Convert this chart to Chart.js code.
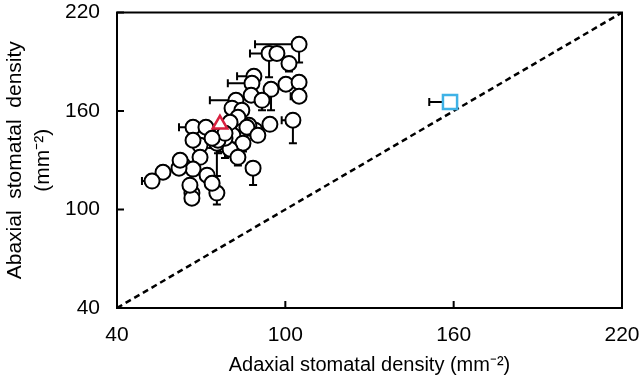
<!DOCTYPE html>
<html>
<head>
<meta charset="utf-8">
<script src="https://cdn.jsdelivr.net/npm/chart.js@4.4.0/dist/chart.umd.min.js"></script>
<style>
  body { margin: 0; background: #fff; }
  #wrap { width: 640px; height: 383px; }
</style>
</head>
<body>
<div id="wrap"><canvas id="myChart"></canvas></div>
<script>
// circles: adaxial (x), abaxial (y), and one-sided errors (x to the left, y downward)
var adaxial = [104.9, 94.2, 97.0, 101.3, 88.8, 88.1, 94.9, 100.2, 104.9, 104.9, 87.8, 82.4, 81.0, 84.5, 102.7, 94.5, 89.2, 87.0, 84.9, 81.3,
               84.9, 67.1, 71.7, 75.6, 69.6, 67.1, 69.6, 80.3, 83.1, 88.5, 63.5, 67.1, 56.4, 52.5, 72.1, 66.7, 66.7, 75.6, 73.9, 76.7,
               78.5, 76.0, 83.1, 80.3, 62.1, 78.5, 73.9, 86.3, 90.2, 66.0, 62.5, 91.7];
var abaxial = [200.6, 195.1, 195.1, 189.0, 181.1, 176.9, 173.2, 176.3, 177.5, 169.0, 169.6, 166.5, 161.7, 160.4, 154.4, 151.9, 148.3, 151.3, 148.3, 145.2,
               140.4, 150.1, 150.1, 140.4, 139.1, 142.2, 131.8, 136.7, 131.8, 125.2, 127.0, 124.6, 122.7, 117.3, 120.9, 110.0, 106.9, 110.0, 116.0, 145.2,
               143.4, 142.2, 156.2, 153.1, 125.2, 146.4, 143.4, 150.1, 145.2, 114.8, 130.0, 166.5];
var adaxialErr = [15.7, 6.8, 0, 0, 6, 8.6, 0, 0, 0, 3, 0, 9.3, 0, 0, 4, 0, 0, 0, 0, 0,
                  0, 5, 0, 0, 0, 2, 0, 0, 0, 0, 2, 0, 2, 3.6, 0, 0, 0, 0, 0, 0,
                  0, 0, 0, 0, 2, 0, 0, 0, 0, 0, 2, 0];
var abaxialErr = [11, 14.6, 4, 5, 0, 3, 12.8, 4, 0, 3, 3, 0, 3, 4, 14, 3, 4, 3, 3, 5,
                  5, 0, 0, 20, 4, 0, 3, 4, 5, 10.3, 4, 3, 0, 2, 4, 0, 0, 7, 4, 10,
                  12, 8, 3, 3, 3, 8, 6, 4, 3, 3, 3, 6];

// red triangle
var triX = [76.7];
var triY = [151.9];

// blue square
var sqX = [158.7];
var sqY = [165.5];
var sqXErr = [7.4];
var sqYErr = [3.7];

// 1:1 line and axis ticks
var oneToOne = [40, 220];
var tickValues = [40, 100, 160, 220];

function toPoints(xs, ys, xe, ye) {
  return xs.map(function (x, i) {
    return { x: x, y: ys[i], xe: xe ? xe[i] : 0, ye: ye ? ye[i] : 0 };
  });
}

var errorBars = {
  id: 'errorBars',
  beforeDatasetsDraw: function (chart) {
    var ctx = chart.ctx, xs = chart.scales.x, ys = chart.scales.y;
    ctx.save();
    ctx.strokeStyle = '#000';
    ctx.lineWidth = 2;
    chart.data.datasets.forEach(function (ds) {
      if (!ds.errors) return;
      ds.data.forEach(function (p) {
        var px = xs.getPixelForValue(p.x), py = ys.getPixelForValue(p.y);
        if (p.xe > 0) {
          var lx = xs.getPixelForValue(p.x - p.xe);
          ctx.beginPath();
          ctx.moveTo(px, py); ctx.lineTo(lx, py);
          ctx.moveTo(lx, py - 4); ctx.lineTo(lx, py + 4);
          ctx.stroke();
        }
        if (p.ye > 0) {
          var ly = ys.getPixelForValue(p.y - p.ye);
          ctx.beginPath();
          ctx.moveTo(px, py); ctx.lineTo(px, ly);
          ctx.moveTo(px - 4, ly); ctx.lineTo(px + 4, ly);
          ctx.stroke();
        }
      });
    });
    ctx.restore();
  },
  afterDraw: function (chart) {
    var ctx = chart.ctx, a = chart.chartArea, xs = chart.scales.x, ys = chart.scales.y;
    ctx.save();
    ctx.strokeStyle = '#000';
    ctx.lineWidth = 2;
    ctx.strokeRect(a.left, a.top, a.right - a.left, a.bottom - a.top);
    // inward ticks on left and bottom
    ctx.beginPath();
    tickValues.forEach(function (v) {
      var tx = xs.getPixelForValue(v), ty = ys.getPixelForValue(v);
      ctx.moveTo(tx, a.bottom); ctx.lineTo(tx, a.bottom - 7);
      ctx.moveTo(a.left, ty); ctx.lineTo(a.left + 7, ty);
    });
    ctx.stroke();
    ctx.restore();
  }
};

var font = '"Liberation Sans", Arial, Helvetica, sans-serif';

var ctx = document.getElementById('myChart').getContext('2d');
var myChart = new Chart(ctx, {
  type: 'scatter',
  data: {
    datasets: [
      {
        type: 'line',
        order: 3,
        data: [{ x: oneToOne[0], y: oneToOne[0] }, { x: oneToOne[1], y: oneToOne[1] }],
        borderColor: '#000',
        borderWidth: 2.5,
        borderDash: [6, 4],
        pointRadius: 0,
        fill: false
      },
      {
        order: 2,
        data: toPoints(adaxial, abaxial, adaxialErr, abaxialErr),
        errors: true,
        pointStyle: 'circle',
        pointRadius: 7.5,
        borderWidth: 2,
        borderColor: '#000',
        backgroundColor: '#fff'
      },
      {
        order: 0,
        data: toPoints(triX, triY),
        pointStyle: 'triangle',
        pointRadius: 8.5,
        borderWidth: 2.5,
        borderColor: '#d8203f',
        backgroundColor: '#fff'
      },
      {
        order: 0,
        data: toPoints(sqX, sqY, sqXErr, sqYErr),
        errors: true,
        pointStyle: 'rect',
        pointRadius: 10,
        borderWidth: 2.5,
        borderColor: '#3fb2e6',
        backgroundColor: '#fff'
      }
    ]
  },
  options: {
    responsive: true,
    maintainAspectRatio: false,
    animation: false,
    layout: { padding: { top: 12, right: 18, left: 0, bottom: 0 } },
    plugins: { legend: { display: false }, tooltip: { enabled: false } },
    scales: {
      x: {
        min: 40, max: 220,
        afterFit: function (s) { s.height = 75; s.paddingLeft = 0; s.paddingRight = 0; },
        grid: { display: false, drawTicks: false },
        border: { display: false },
        ticks: { stepSize: 60, padding: 15, color: '#000', font: { family: font, size: 21 } },
        title: {
          display: true,
          text: 'Adaxial stomatal density (mm\u207B\u00B2)',
          color: '#000',
          padding: { top: 0, bottom: 6 },
          font: { family: font, size: 20 }
        }
      },
      y: {
        min: 40, max: 220,
        afterFit: function (s) { s.width = 117; s.paddingTop = 0; s.paddingBottom = 0; },
        grid: { display: false, drawTicks: false },
        border: { display: false },
        ticks: { stepSize: 60, padding: 17, color: '#000', font: { family: font, size: 21 } },
        title: {
          display: true,
          text: ['Abaxial  stomatal  density', '(mm\u207B\u00B2)'],
          color: '#000',
          padding: { top: 2, bottom: 0 },
          font: { family: font, size: 21, lineHeight: 1.3 }
        }
      }
    }
  },
  plugins: [errorBars]
});
</script>
</body>
</html>
